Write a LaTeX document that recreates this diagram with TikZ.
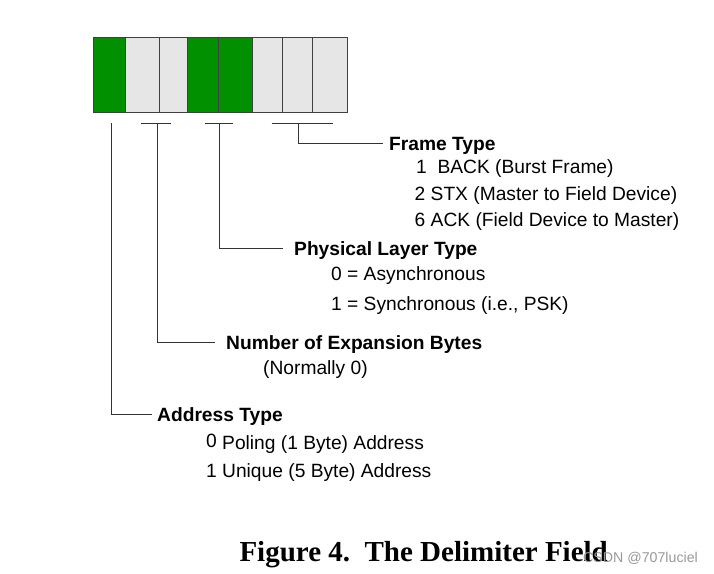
\documentclass[tikz,border=0pt]{standalone}
\usepackage{fontspec}
\setmainfont{Liberation Sans}
\newfontfamily\capfont{Liberation Serif}
\usetikzlibrary{positioning}
\definecolor{bitgreen}{RGB}{0,144,0}
\definecolor{bitgray}{RGB}{230,230,230}
\tikzset{
  head/.style={anchor=west,inner sep=0pt,text height=13.8pt,text depth=0pt,
    font=\bfseries\fontsize{19.2}{22}\selectfont},
  item/.style={anchor=base west,inner sep=0pt,font=\fontsize{19.2}{22}\selectfont},
  lead/.style={draw=black!80,line width=1pt},
  bit/.style={draw=black!75,line width=0.9pt}
}
\begin{document}
\begin{tikzpicture}[x=1pt,y=-1pt]
\useasboundingbox (0,0) rectangle (714,573);
% the eight bits of the delimiter byte
\foreach \l/\r/\c in {93.3/125.7/bitgreen,125.7/159/bitgray,159/187.7/bitgray,
  187.7/218.3/bitgreen,218.3/252.7/bitgreen,252.7/282.3/bitgray,
  282.3/312.3/bitgray,312.3/347.3/bitgray}
{ \draw[bit,fill=\c] (\l,37.3) rectangle (\r,112.7);};
% bracket tops
\coordinate (at) at (111.7,123.3);
\coordinate (nb) at (157.7,123.3);
\coordinate (pl) at (219.3,123.3);
\coordinate (ft) at (298.3,123.3);
\draw[lead] ([xshift=-16.7pt]nb) -- ([xshift=13pt]nb);
\draw[lead] ([xshift=-14.3pt]pl) -- ([xshift=14pt]pl);
\draw[lead] ([xshift=-26.6pt]ft) -- ([xshift=35pt]ft);
% labels
\node[head] (fth) at (389,143.3) {Frame Type};
\node[item] (ft1) at (416,173.3) {1~~BACK (Burst Frame)};
\node[item] (ft2) at (414.5,200) {2 STX (Master to Field Device)};
\node[item] (ft6) at (414.5,226.7) {6 ACK (Field Device to Master)};
\node[head] (plh) at (294,248.3) {Physical Layer Type};
\node[item] (pl0) at (331,280.7) {0 = Asynchronous};
\node[item] (pl1) at (331,310) {1 = Synchronous (i.e., PSK)};
\node[head] (nbh) at (226,342.3) {Number of Expansion Bytes};
\node[item] (nb0) at (263,374) {(Normally 0)};
\node[head] (ath) at (157,414.5) {Address Type};
\node[item] (at0) at (206,449) {\raisebox{1.5pt}{0} Poling (1 Byte) Address};
\node[item] (at1) at (206,477) {1 Unique (5 Byte) Address};
% leaders
\draw[lead] (ft) |- ([xshift=-6pt]fth.west);
\draw[lead] (pl) |- ([xshift=-11pt]plh.west);
\draw[lead] (nb) |- ([xshift=-11pt]nbh.west);
\draw[lead] (at) |- ([xshift=-5pt]ath.west);
% caption
\node[anchor=base west,inner sep=0pt,font=\capfont\bfseries\fontsize{29}{34}\selectfont]
  (cap) at (239.3,561.7) {Figure 4.\ \ The Delimiter Field};
\node[anchor=base west,inner sep=0pt,text=black!40,font=\fontsize{14.2}{16}\selectfont]
  (wm) at (583,562) {CSDN @707luciel};
\end{tikzpicture}
\end{document}
